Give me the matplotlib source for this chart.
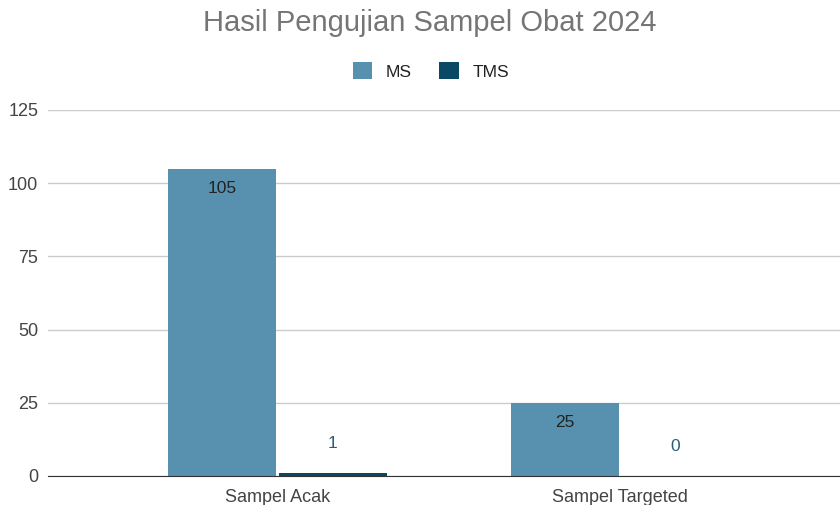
import matplotlib.pyplot as plt
import numpy as np

plt.rcParams['font.family'] = ['Liberation Sans', 'DejaVu Sans']

categories = ["Sampel Acak", "Sampel Targeted"]
ms_values = [105, 25]
tms_values = [1, 0]
series_names = ["MS", "TMS"]
colors = ["#5891AF", "#0A4964"]

fig = plt.figure(figsize=(8.4, 5.05), dpi=100)
ax = fig.add_axes([48 / 840, 29 / 505, 1 - 48 / 840, (476 - 110) / 505])

x = np.arange(len(categories))
w = 0.315
bars_ms = ax.bar(x - w / 2 - 0.004, ms_values, w, color=colors[0], label=series_names[0], zorder=3)
bars_tms = ax.bar(x + w / 2 + 0.004, tms_values, w, color=colors[1], label=series_names[1], zorder=3)

for b, v in zip(bars_ms, ms_values):
    ax.annotate(str(v), (b.get_x() + b.get_width() / 2, v), xytext=(0, -14),
                textcoords="offset points", ha="center", va="center",
                fontsize=12.5, color="#222222", zorder=4)
for b, v in zip(bars_tms, tms_values):
    ax.annotate(str(v), (b.get_x() + b.get_width() / 2, v), xytext=(0, 21),
                textcoords="offset points", ha="center", va="center",
                fontsize=12.5, color="#2A5D7C", zorder=4)

ax.set_xlim(-0.67, 1.642)
ax.set_ylim(0, 125)
ax.set_yticks([0, 25, 50, 75, 100, 125])
ax.set_xticks(x)
ax.set_xticklabels(categories)
ax.tick_params(axis="both", length=0, labelsize=13, labelcolor="#444444")
ax.tick_params(axis="x", pad=9)
ax.tick_params(axis="y", pad=7)
ax.grid(axis="y", color="#cccccc", linewidth=1, zorder=0)
for s in ["top", "right", "left"]:
    ax.spines[s].set_visible(False)
ax.spines["bottom"].set_color("#333333")
ax.spines["bottom"].set_zorder(5)

fig.text(0.512, 1 - 23 / 505, "Hasil Pengujian Sampel Obat 2024", ha="center", va="center",
         fontsize=21, color="#757575")
fig.legend(loc="center", bbox_to_anchor=(0.513, 1 - 71 / 505), ncol=2, frameon=False,
           fontsize=12.5, handlelength=1.1, handleheight=1.1, columnspacing=1.6,
           handletextpad=0.8, labelcolor="#222222")

fig.savefig("out.png", dpi=100)
